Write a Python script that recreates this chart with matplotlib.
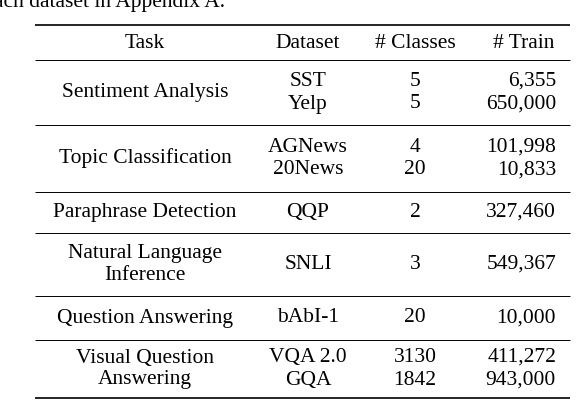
import matplotlib.pyplot as plt

# table contents
header = ["Task", "Dataset", "# Classes", "# Train"]
tasks = ["Sentiment Analysis", "Topic Classification", "Paraphrase Detection",
         "Natural Language\nInference", "Question Answering", "Visual Question\nAnswering"]
datasets = [["SST", "Yelp"], ["AGNews", "20News"], ["QQP"], ["SNLI"], ["bAbI-1"], ["VQA 2.0", "GQA"]]
classes = [["5", "5"], ["4", "20"], ["2"], ["3"], ["20"], ["3130", "1842"]]
train = [["6,355", "650,000"], ["101,998", "10,833"], ["327,460"], ["549,367"],
         ["10,000"], ["411,272", "943,000"]]

# vertical layout in pixels
group_top = [60, 125, 192, 233, 296, 340]
group_bot = [125, 192, 233, 296, 340, 398]

fig = plt.figure(figsize=(5.78, 4.04), dpi=100)
ax = fig.add_axes([0, 0, 1, 1])
ax.set_xlim(0, 578)
ax.set_ylim(404, 0)
ax.axis("off")

fs = 15.5
font = dict(family="Liberation Serif", fontsize=fs, va="center")

ax.text(-6, 3, "ach dataset in Appendix A.", ha="left", **font)

ax.hlines(25, 35, 570, color="black", lw=1.2)
ax.hlines(group_bot[-1], 35, 570, color="black", lw=1.2)
for y in group_top:
    ax.hlines(y, 35, 570, color="black", lw=0.7)

hy = 43
ax.text(145, hy, header[0], ha="center", **font)
ax.text(308, hy, header[1], ha="center", **font)
ax.text(415, hy, header[2], ha="center", **font)
ax.text(524, hy, header[3], ha="center", **font)

for i, task in enumerate(tasks):
    top, bot = group_top[i], group_bot[i]
    mid = (top + bot) / 2
    ax.text(145, mid, task, ha="center", multialignment="center", linespacing=1.15, **font)
    n = len(datasets[i])
    step = 23
    for j in range(n):
        y = mid + (j - (n - 1) / 2) * step
        ax.text(308, y, datasets[i][j], ha="center", **font)
        ax.text(415, y, classes[i][j], ha="center", **font)
        ax.text(556, y, train[i][j], ha="right", **font)

fig.savefig("out.png", dpi=100)
